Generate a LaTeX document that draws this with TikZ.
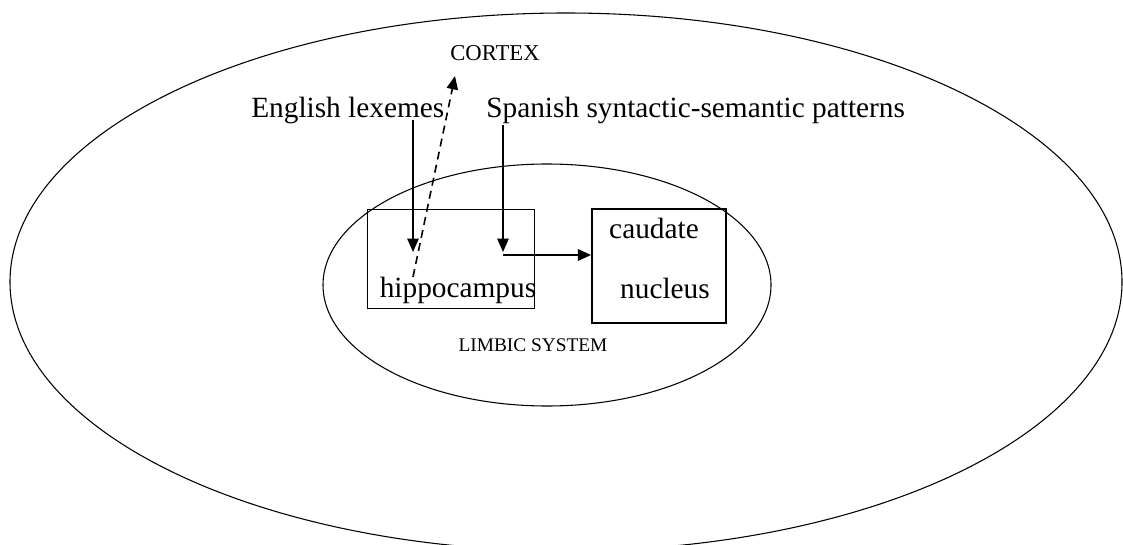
\documentclass[tikz,border=0pt]{standalone}
\usepackage{fontspec}
\setmainfont{Liberation Serif}
\usetikzlibrary{arrows.meta}

\tikzset{
  region/.style={line width=0.8pt},
  box/.style={draw, line width=1.2pt, inner sep=0pt},
  bigtext/.style={font=\fontsize{22}{26}\selectfont, inner sep=0pt},
  smalltext/.style={font=\fontsize{14.5}{17}\selectfont, inner sep=0pt},
  link/.style={line width=1.2pt, -{Triangle[length=10pt,width=8.5pt]}},
}

\begin{document}
\begin{tikzpicture}[x=0.75pt, y=-0.75pt]
     \useasboundingbox (0,0) rectangle (1123,545);

     % cortex and limbic system
     \draw[region] (566,282) ellipse [x radius=417pt, y radius=201.75pt];
     \draw[region] (547,285) ellipse [x radius=168pt, y radius=90.75pt];

     \node[smalltext, font=\fontsize{17}{20}\selectfont] (cortex) at (495,53) {CORTEX};
     \node[smalltext] (limbic) at (533,345) {LIMBIC SYSTEM};

     \node[bigtext, anchor=base west] (english) at (251,118) {English lexemes};
     \node[bigtext, anchor=base west] (spanish) at (486,118) {Spanish syntactic-semantic patterns};

     \node[box, minimum width=125.25pt, minimum height=74.25pt] (hippo) at (451,259) {};
     \node[box, minimum width=100.5pt, minimum height=85.5pt] (caudate) at (659,266) {};
     \node[bigtext] (hippotext) at (458,290) {hippocampus};
     \node[bigtext] (caudtext) at (654,228) {caudate};
     \node[bigtext] (nucltext) at (665,288) {nucleus};

     \coordinate (enin) at (413,252);
     \coordinate (spin) at (503,252);
     \coordinate (back) at (413,277);
     \coordinate (up) at (455,76);

     \draw[link] (english.base -| enin) ++(0,2) -- (enin);
     \draw[link] (spanish.base -| spin) ++(0,7) -- (spin);
     \draw[link, line width=1.8pt] (503,255) -- (caudate.west |- 503,255);
     \draw[link, dash pattern=on 6pt off 4pt] (back) -- (up);
   \end{tikzpicture}
\end{document}
